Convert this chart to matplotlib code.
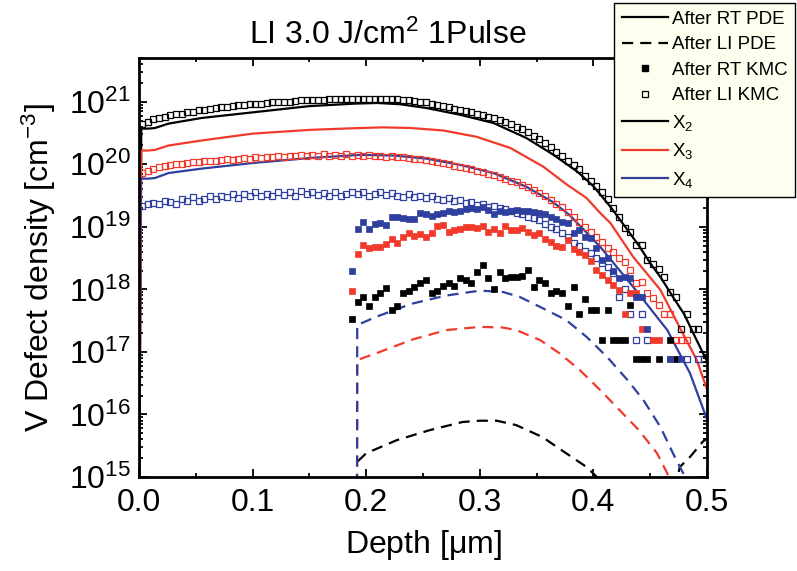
import numpy as np
import matplotlib
matplotlib.use("Agg")
import matplotlib.pyplot as plt
from matplotlib.lines import Line2D
from matplotlib.ticker import FixedLocator, LogLocator, MultipleLocator, NullFormatter

plt.rcParams['font.family'] = ['Liberation Sans', 'DejaVu Sans']
plt.rcParams['mathtext.fontset'] = 'custom'
plt.rcParams['mathtext.rm'] = 'Liberation Sans'
plt.rcParams['mathtext.it'] = 'Liberation Sans:italic'
plt.rcParams['mathtext.default'] = 'regular'

RED = '#f23a2c'
BLUE = '#2e3f9e'
NAN = np.nan

# ---- PDE profiles (depth in um, log10 of density in cm^-3) ----
rt_x2_depth = [0.0, 0.002, 0.008, 0.014, 0.026, 0.055, 0.1, 0.15, 0.19, 0.21, 0.23, 0.253,
               0.283, 0.312, 0.341, 0.365, 0.386, 0.4, 0.415, 0.43, 0.44, 0.45, 0.46, 0.47,
               0.48, 0.49, 0.5]
rt_x2_log = [14.0, 20.57, 20.57, 20.58, 20.65, 20.74, 20.83, 20.93, 20.97, 20.98, 20.96, 20.9,
             20.79, 20.66, 20.42, 20.15, 19.88, 19.65, 19.32, 18.95, 18.7, 18.42, 18.17, 17.88,
             17.6, 17.22, 16.85]

rt_x3_depth = [0.0, 0.002, 0.008, 0.014, 0.026, 0.055, 0.1, 0.15, 0.195, 0.215, 0.239, 0.268,
               0.297, 0.327, 0.356, 0.377, 0.394, 0.406, 0.415, 0.435, 0.459, 0.474, 0.491, 0.5]
rt_x3_log = [14.0, 20.22, 20.22, 20.23, 20.3, 20.38, 20.49, 20.55, 20.58, 20.59, 20.58, 20.54,
             20.44, 20.26, 19.96, 19.67, 19.46, 19.22, 19.06, 18.52, 17.99, 17.46, 16.87, 16.4]

rt_x4_depth = [0.0, 0.0015, 0.008, 0.014, 0.026, 0.055, 0.1, 0.15, 0.1945, 0.224, 0.253, 0.283,
               0.312, 0.341, 0.364, 0.379, 0.406, 0.435, 0.465, 0.485, 0.498, 0.5]
rt_x4_log = [14.0, 19.77, 19.77, 19.78, 19.86, 19.93, 20.02, 20.1, 20.15, 20.14, 20.09, 19.99,
             19.86, 19.64, 19.4, 19.19, 18.68, 18.04, 17.35, 16.66, 16.02, 15.92]

li_x2_depth = [0.1925, 0.2, 0.227, 0.256, 0.285, 0.3, 0.315, 0.332, 0.355, 0.376, 0.394, 0.403,
               0.41, 0.44, 0.472, 0.476, 0.485, 0.496, 0.5]
li_x2_log = [15.25, 15.38, 15.59, 15.75, 15.88, 15.9, 15.9, 15.83, 15.64, 15.38, 15.16, 15.0,
             14.8, 14.0, 14.8, 15.16, 15.32, 15.56, 15.62]

li_x3_depth = [0.1919, 0.1921, 0.212, 0.241, 0.271, 0.3, 0.32, 0.332, 0.353, 0.37, 0.388, 0.406,
               0.423, 0.44, 0.456, 0.465, 0.47]
li_x3_log = [14.0, 16.87, 17.0, 17.2, 17.35, 17.4, 17.39, 17.35, 17.19, 16.98, 16.71, 16.39,
             16.07, 15.75, 15.38, 15.06, 14.8]

li_x4_depth = [0.1919, 0.1921, 0.21, 0.24, 0.27, 0.3, 0.32, 0.335, 0.353, 0.376, 0.394, 0.412,
               0.43, 0.444, 0.459, 0.47, 0.479, 0.485]
li_x4_log = [14.0, 17.43, 17.57, 17.77, 17.9, 17.98, 17.96, 17.88, 17.72, 17.51, 17.24, 16.92,
             16.55, 16.23, 15.8, 15.38, 15.06, 14.8]

# ---- KMC histograms, bins of 0.005 um ----
kmc_depth = np.round(0.0025 + 0.005 * np.arange(100), 4)
rt_start = 37  # RT KMC data starts at bin 37 (0.1875 um)

li_kmc_x2_log = [
    20.65, 20.68, 20.72, 20.74, 20.76, 20.78, 20.8, 20.81, 20.83, 20.84,
    20.86, 20.87, 20.89, 20.9, 20.91, 20.92, 20.93, 20.94, 20.95, 20.96,
    20.97, 20.97, 20.98, 20.99, 20.99, 21.0, 21.0, 21.01, 21.02, 21.02,
    21.03, 21.03, 21.03, 21.04, 21.04, 21.04, 21.05, 21.05, 21.05, 21.05,
    21.05, 21.05, 21.05, 21.05, 21.04, 21.04, 21.03, 21.02, 21.01, 21.0,
    20.99, 20.97, 20.95, 20.93, 20.92, 20.89, 20.87, 20.85, 20.83, 20.8,
    20.78, 20.76, 20.74, 20.71, 20.68, 20.64, 20.6, 20.56, 20.51, 20.46,
    20.4, 20.34, 20.27, 20.2, 20.13, 20.06, 19.99, 19.92, 19.82, 19.74,
    19.65, 19.55, 19.45, 19.3, 19.16, 18.98, 18.92, 18.71, 18.71, 18.47,
    18.4, 18.33, 18.2, 17.96, 17.88, 17.37, 17.6, 17.37, 17.37, 16.89]

li_kmc_x3_log = [
    19.86, 19.9, 19.93, 19.96, 19.98, 19.99, 20.01, 20.0, 20.02, 20.04,
    20.03, 20.05, 20.06, 20.05, 20.07, 20.08, 20.07, 20.09, 20.1, 20.08,
    20.11, 20.1, 20.12, 20.11, 20.13, 20.12, 20.14, 20.13, 20.15, 20.13,
    20.15, 20.14, 20.16, 20.14, 20.15, 20.13, 20.16, 20.14, 20.15, 20.13,
    20.15, 20.14, 20.13, 20.12, 20.13, 20.11, 20.12, 20.1, 20.09, 20.08,
    20.07, 20.05, 20.04, 20.02, 20.0, 19.98, 19.96, 19.94, 19.92, 19.89,
    19.87, 19.85, 19.83, 19.8, 19.77, 19.74, 19.71, 19.67, 19.63, 19.59,
    19.54, 19.49, 19.43, 19.37, 19.31, 19.24, 19.15, 19.07, 19.0, 18.92,
    18.84, 18.76, 18.66, 18.6, 18.5, 18.44, 18.31, 18.1, 18.12, 17.95,
    17.86, 17.75, 17.6, 17.6, 17.19, 17.19, 17.19, NAN, NAN, NAN]

li_kmc_x4_log = [
    19.34, 19.37, 19.38, 19.36, 19.41, 19.39, 19.37, 19.45, 19.42, 19.47,
    19.41, 19.45, 19.5, 19.45, 19.49, 19.47, 19.52, 19.46, 19.53, 19.49,
    19.55, 19.5, 19.53, 19.49, 19.56, 19.51, 19.55, 19.5, 19.57, 19.52,
    19.55, 19.51, 19.54, 19.5, 19.55, 19.5, 19.53, 19.56, 19.52, 19.55,
    19.5, 19.53, 19.55, 19.51, 19.54, 19.5, 19.48, 19.52, 19.47, 19.5,
    19.46, 19.49, 19.45, 19.43, 19.46, 19.41, 19.43, 19.38, 19.4, 19.35,
    19.36, 19.32, 19.33, 19.3, 19.28, 19.26, 19.22, 19.2, 19.15, 19.14,
    19.11, 19.05, 19.0, 18.96, 18.9, 18.83, 18.74, 18.7, 18.62, 18.58,
    18.5, 18.42, 18.35, 18.26, 17.88, 18.0, 17.6, 17.19, 17.6, 17.19,
    NAN, NAN, NAN, NAN, NAN, NAN, 16.89, NAN, 16.89, NAN]

rt_kmc_x2_log = [
    17.53, 17.8, 17.88, 17.74, 17.88, 17.94, 18.02, 17.67, 17.74, 17.94,
    17.98, 18.04, 18.1, 18.15, 17.94, 17.98, 18.06, 18.1, 18.05, 18.18,
    18.15, 18.1, 18.28, 18.39, 18.18, 18.0, 18.28, 18.18, 18.2,
    18.2, 18.22, 18.31, 18.03, 18.15, 18.1, 17.94, 17.98, 17.94, 17.74,
    18.04, 17.6, 17.85, 17.67,
    17.67, 17.19, 17.67, 17.19, 17.19, 17.19, 17.75, 16.89, 16.89, 16.89,
    NAN, 16.89, NAN, 17.19, 16.89, NAN, NAN, NAN, NAN, NAN]

rt_kmc_x3_log = [
    17.98, 18.57, 18.71, 18.66, 18.68, 18.68, 18.72, 18.81, 18.74, 18.84,
    18.9, 18.86, 18.88, 18.84, 18.9, 19.02, 19.03, 18.92, 18.95, 18.97,
    19.0, 19.0, 18.98, 19.02, 18.92, 18.96, 18.9, 19.02, 18.95,
    18.95, 18.98, 18.92, 18.87, 18.9, 18.8, 18.76, 18.7, 18.68, 18.79,
    18.65, 18.6, 18.55, 18.45, 18.31, 18.23, 18.15, 18.07, 17.99, 17.6,
    17.94, 17.94, 17.37, NAN, 17.19, 17.19, NAN, 16.89, NAN, NAN,
    NAN, NAN, NAN, NAN]

rt_kmc_x4_log = [
    18.3, 18.97, 19.08, 18.97, 19.04, 19.06, 19.03, 19.16, 19.16, 19.14,
    19.12, 19.13, 19.22, 19.2, 19.18, 19.2, 19.22, 19.26, 19.24, 19.26,
    19.28, 19.3, 19.29, 19.32, 19.27, 19.2, 19.26, 19.24, 19.25,
    19.27, 19.25, 19.26, 19.24, 19.22, 19.2, 19.16, 19.12, 19.08, 19.06,
    18.9, 18.95, 18.84, 18.82, 18.66, 18.47, 18.5, 18.3, 18.18, 18.2,
    18.18, 17.88, 17.88, 17.37, NAN, NAN, NAN, 16.89, NAN, 16.89,
    NAN, NAN, NAN, NAN]

y_major = [1e15, 1e16, 1e17, 1e18, 1e19, 1e20, 1e21]

fig = plt.figure(figsize=(7.97, 5.71), dpi=100)
ax = fig.add_axes([0.1744, 0.1646, 0.7127, 0.7338])

lw = 1.6
dash = (5, 3.2)
for d, v, c in [(rt_x2_depth, rt_x2_log, 'black'), (rt_x3_depth, rt_x3_log, RED),
                (rt_x4_depth, rt_x4_log, BLUE)]:
    ax.plot(d, 10.0 ** np.array(v), color=c, lw=lw)
for d, v, c in [(li_x2_depth, li_x2_log, 'black'), (li_x3_depth, li_x3_log, RED),
                (li_x4_depth, li_x4_log, BLUE)]:
    ax.plot(d, 10.0 ** np.array(v), color=c, lw=lw, dashes=dash)

ms = 5.0
for v, c in [(li_kmc_x2_log, 'black'), (li_kmc_x3_log, RED), (li_kmc_x4_log, BLUE)]:
    ax.plot(kmc_depth, 10.0 ** np.array(v), ls='none', marker='s', ms=ms,
            mfc='none', mec=c, mew=0.9)
for v, c in [(rt_kmc_x2_log, 'black'), (rt_kmc_x3_log, RED), (rt_kmc_x4_log, BLUE)]:
    ax.plot(kmc_depth[rt_start:], 10.0 ** np.array(v), ls='none', marker='s', ms=ms,
            mfc=c, mec=c, mew=0.5)

ax.set_yscale('log')
ax.set_xlim(0.0, 0.5)
ax.set_ylim(1e15, 5e21)
ax.xaxis.set_major_locator(MultipleLocator(0.1))
ax.xaxis.set_minor_locator(MultipleLocator(0.05))
ax.xaxis.set_major_formatter(matplotlib.ticker.FormatStrFormatter('%.1f'))
ax.yaxis.set_major_locator(FixedLocator(y_major))
ax.yaxis.set_minor_locator(LogLocator(base=10, subs=np.arange(2, 10), numticks=20))
ax.yaxis.set_minor_formatter(NullFormatter())

for s in ax.spines.values():
    s.set_linewidth(2.0)
ax.tick_params(which='both', direction='in', top=True, right=True, width=1.3)
ax.tick_params(which='major', length=6, labelsize=23)
ax.tick_params(which='minor', length=3)
ax.tick_params(axis='x', pad=8)
ax.tick_params(axis='y', pad=6)

ax.set_xlabel(r'Depth [$\mu$m]', fontsize=23, labelpad=7)
ax.set_ylabel(r'V Defect density [cm$^{-3}$]', fontsize=23, labelpad=8)
fig.text(388 / 797, 1 - 35 / 571, r'LI 3.0 J/cm$^{2}$ 1Pulse', fontsize=23,
         ha='center', va='center')

handles = [
    Line2D([], [], color='black', lw=lw),
    Line2D([], [], color='black', lw=lw, dashes=dash),
    Line2D([], [], color='black', ls='none', marker='s', ms=ms, mfc='black'),
    Line2D([], [], color='black', ls='none', marker='s', ms=ms, mfc='none', mew=0.9),
    Line2D([], [], color='black', lw=lw),
    Line2D([], [], color=RED, lw=lw),
    Line2D([], [], color=BLUE, lw=lw),
]
labels = ['After RT PDE', 'After LI PDE', 'After RT KMC', 'After LI KMC',
          'X$_2$', 'X$_3$', 'X$_4$']
leg = fig.legend(handles, labels, loc='upper left', bbox_to_anchor=(614 / 797, 1 - 3 / 571),
                 fontsize=13.5, frameon=True, fancybox=False, framealpha=1,
                 facecolor='#fffff0', edgecolor='black', handlelength=2.5,
                 handletextpad=0.2, labelspacing=0.45, borderpad=0.4, borderaxespad=0)
leg.get_frame().set_linewidth(1.0)

fig.savefig('out.png', dpi=100)
